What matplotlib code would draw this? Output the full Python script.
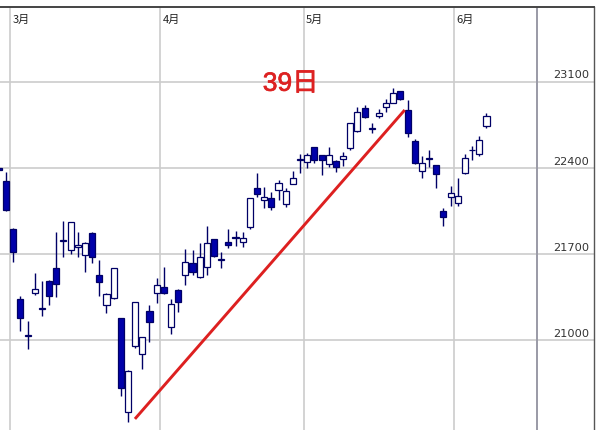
import numpy as np
import pandas as pd
import matplotlib
matplotlib.use("Agg")
import matplotlib.pyplot as plt
import matplotlib.transforms as mtransforms
import matplotlib.patheffects as pe

# 営業日 (2018/2/27 - 6/7, 祝日除く)
holidays = ["2018-03-21", "2018-04-30", "2018-05-03", "2018-05-04"]
dates = pd.bdate_range("2018-02-27", "2018-06-07")
dates = dates[~dates.isin(pd.to_datetime(holidays))]

opens = [22400, 22298, 21903, 21335, 21035, 21383, 21252, 21486, 21586, 21812,
         21735, 21757, 21694, 21870, 21532, 21288, 21343, 21180, 20422, 20958,
         20890, 21242, 21388, 21437, 21112, 21412, 21532, 21627, 21518, 21599,
         21822, 21655, 21802, 21832, 21797, 21919, 22236, 22141, 22155, 22222,
         22108, 22271, 22462, 22452, 22569, 22506, 22433, 22458, 22474, 22561,
         22704, 22890, 22719, 22823, 22899, 22931, 23026, 22872, 22622, 22376,
         22475, 22425, 22054, 22163, 22119, 22358, 22543, 22514, 22742]
highs = [22420, 22371, 21910, 21364, 21158, 21546, 21486, 21490, 21881, 21970,
         21965, 21881, 21800, 21884, 21654, 21388, 21590, 21185, 20760, 21315,
         21030, 21288, 21505, 21599, 21337, 21415, 21741, 21735, 21789, 21932,
         21825, 21721, 21905, 21889, 21884, 22160, 22358, 22249, 22208, 22303,
         22236, 22379, 22514, 22525, 22572, 22510, 22569, 22466, 22528, 22770,
         22899, 22912, 22764, 22877, 22958, 23053, 23030, 22953, 22634, 22498,
         22547, 22428, 22073, 22255, 22317, 22514, 22579, 22661, 22850]
lows = [22360, 22050, 21635, 21080, 20929, 21369, 21199, 21288, 21356, 21680,
        21700, 21680, 21559, 21627, 21361, 21221, 21340, 20549, 20341, 20937,
        20766, 20990, 21307, 21375, 21050, 21234, 21451, 21532, 21510, 21532,
        21680, 21586, 21749, 21770, 21762, 21903, 22168, 22073, 22060, 22141,
        22082, 22268, 22358, 22398, 22439, 22344, 22406, 22371, 22417, 22547,
        22696, 22804, 22688, 22804, 22858, 22928, 22955, 22650, 22430, 22317,
        22411, 22236, 21930, 22092, 22092, 22350, 22466, 22498, 22723]
closes = [22385, 22060, 21716, 21180, 21043, 21416, 21260, 21361, 21459, 21820,
          21962, 21775, 21794, 21676, 21473, 21375, 21586, 20612, 20755, 21310,
          21026, 21148, 21451, 21383, 21294, 21310, 21635, 21559, 21680, 21789,
          21689, 21663, 21775, 21838, 21835, 22155, 22190, 22163, 22082, 22276,
          22216, 22317, 22470, 22506, 22466, 22466, 22506, 22406, 22501, 22764,
          22858, 22817, 22727, 22845, 22931, 23007, 22959, 22688, 22439, 22444,
          22483, 22352, 22005, 22200, 22173, 22479, 22551, 22628, 22823]

y_ticks = [21000, 21700, 22400, 23100]
trend_start = (16.97, 20363)
trend_end = (54.6, 22872)
trend_label = "39日"

opens = np.array(opens)
highs = np.array(highs)
lows = np.array(lows)
closes = np.array(closes)
x = np.arange(len(dates)) - 2  # 3/1 = 0

fig = plt.figure(figsize=(6, 4.3), dpi=100)
ax = fig.add_axes([0, 0, 594 / 600, 1 - 7.3 / 430])
ax.set_xlim(-1.85, 81.0)
ax.set_ylim(20273, 23706)

grid_c = "#cccccc"
for t in y_ticks:
    ax.axhline(t, color=grid_c, lw=1.2, zorder=0)

# 月の区切り
month_start = [i for i in range(1, len(dates)) if dates[i].month != dates[i - 1].month]
trans = mtransforms.blended_transform_factory(ax.transData, ax.transAxes)
for i in month_start:
    xm = x[i] - 0.5
    ax.axvline(xm, color=grid_c, lw=1.2, zorder=0)
    ax.text(xm + 0.35, 0.983, f"{dates[i].month}月", transform=trans,
            ha="left", va="top", fontsize=8, color="#222222",
            family=["Noto Sans CJK JP", "DejaVu Sans"])

ax.axvline(73.04, color="#9a9aa6", lw=1.4, zorder=1)

# ローソク足
up = closes >= opens
edge = "#000066"
ax.vlines(x, lows, highs, color=edge, lw=1.0, zorder=2)
ax.bar(x[up], closes[up] - opens[up], bottom=opens[up], width=0.85,
       color="white", edgecolor=edge, linewidth=0.9, zorder=3)
ax.bar(x[~up], opens[~up] - closes[~up], bottom=closes[~up], width=0.85,
       color="#0000aa", edgecolor=edge, linewidth=0.9, zorder=3)

ax.plot([trend_start[0], trend_end[0]], [trend_start[1], trend_end[1]],
        color="#dd2020", lw=2.1, solid_capstyle="butt", zorder=5)
ax.text(34.8, 23028, trend_label, color="#dd2222", fontsize=19,
        ha="left", va="baseline",
        family=["Liberation Sans", "Noto Sans CJK JP"], zorder=6,
        path_effects=[pe.withStroke(linewidth=0.5, foreground="#dd2222")])

for t in y_ticks:
    ax.text(80.3, t + 12, str(t), ha="right", va="bottom", fontsize=8.2,
            color="#333333")

for s in ["left", "bottom"]:
    ax.spines[s].set_visible(False)
ax.spines["top"].set_color("#444444")
ax.spines["top"].set_linewidth(1.4)
ax.spines["right"].set_color("#555555")
ax.spines["right"].set_linewidth(1.0)
ax.set_xticks([])
ax.set_yticks([])

fig.savefig("out.png", dpi=100)
